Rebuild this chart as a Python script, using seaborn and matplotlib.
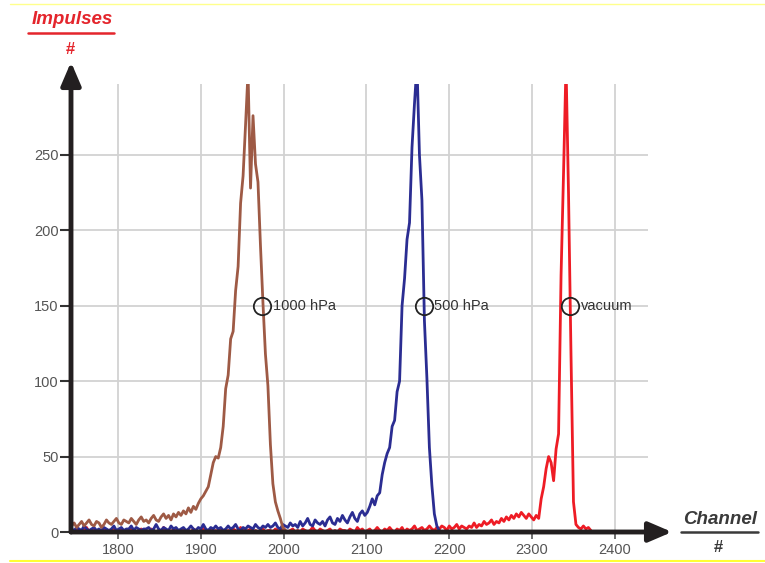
import numpy as np
import pandas as pd
import matplotlib
matplotlib.use("Agg")
import matplotlib.pyplot as plt
from matplotlib.lines import Line2D
import seaborn as sns

# ---- spectra (counts per channel) ----
ch_1000 = np.arange(1744, 2003, 3)
counts_1000 = [
    4, 6, 3, 5, 7, 4, 6, 8, 5, 4,
    7, 6, 3, 5, 8, 6, 5, 7, 9, 6,
    5, 8, 7, 6, 9, 7, 5, 8, 10, 7,
    8, 6, 9, 11, 8, 7, 10, 12, 9, 11,
    8, 12, 10, 13, 11, 14, 12, 16, 13, 17,
    15, 19, 22, 24, 27, 30, 38, 46, 50, 49,
    56, 70, 95, 104, 128, 133, 160, 176, 218, 236,
    270, 305, 228, 276, 244, 232, 190, 152, 118, 97,
    58, 32, 20, 14, 9, 3, 1,
]

ch_500 = np.arange(1744, 2189, 3)
counts_500 = [
    2, 1, 3, 2, 1, 4, 2, 1, 2, 3,
    1, 2, 1, 3, 2, 1, 2, 4, 1, 2,
    3, 1, 2, 2, 4, 1, 3, 2, 1, 2,
    2, 3, 1, 2, 5, 2, 1, 3, 2, 1,
    4, 2, 3, 1, 2, 3, 1, 2, 4, 2,
    1, 3, 2, 5, 2, 1, 3, 2, 4, 2,
    3, 1, 2, 4, 2, 3, 5, 2, 1, 3,
    2, 4, 3, 2, 5, 3, 2, 4, 3, 5,
    3, 4, 6, 3, 2, 5, 4, 3, 6, 4,
    5, 3, 7, 4, 6, 9, 5, 4, 8, 6,
    5, 7, 4, 8, 10, 6, 5, 9, 7, 11,
    8, 6, 10, 13, 9, 7, 12, 14, 11, 13,
    17, 22, 18, 24, 26, 38, 46, 52, 56, 70,
    74, 93, 100, 150, 168, 194, 205, 255, 284, 310,
    250, 220, 140, 102, 56, 31, 12, 4, 1,
]

ch_vac = np.arange(1744, 2373, 3)
counts_vac = [
    1, 0, 2, 1, 0, 1, 3, 0, 1, 2,
    0, 1, 0, 2, 1, 0, 1, 2, 0, 1,
    2, 0, 1, 0, 3, 1, 0, 1, 2, 0,
    1, 0, 2, 1, 0, 1, 0, 3, 1, 0,
    0, 2, 1, 0, 1, 2, 0, 1, 0, 2,
    1, 0, 1, 3, 0, 1, 2, 0, 1, 0,
    2, 1, 0, 1, 0, 2, 1, 0, 3, 1,
    0, 1, 2, 0, 1, 0, 1, 2, 0, 1,
    1, 0, 2, 1, 0, 3, 1, 0, 1, 2,
    0, 1, 0, 2, 1, 0, 1, 3, 1, 0,
    2, 1, 0, 1, 2, 0, 1, 0, 2, 1,
    1, 0, 2, 1, 0, 3, 1, 2, 0, 1,
    2, 0, 1, 3, 1, 0, 2, 1, 3, 1,
    0, 2, 1, 3, 0, 2, 1, 2, 4, 1,
    2, 3, 1, 2, 4, 2, 1, 3, 2, 4,
    3, 1, 4, 2, 3, 5, 2, 4, 3, 2,
    4, 3, 6, 3, 5, 4, 7, 5, 6, 8,
    5, 7, 6, 9, 7, 10, 8, 11, 9, 12,
    10, 13, 11, 9, 12, 10, 8, 11, 9, 22,
    30, 42, 50, 46, 34, 55, 65, 170, 238, 310,
    225, 118, 20, 5, 3, 2, 4, 2, 3, 1,
]

# marker labels on the falling flank of each peak
label_names = ["1000 hPa", "500 hPa", "vacuum"]
label_channels = [1974, 2169, 2346]
label_counts = [150, 150, 150]

x_ticks = [1800, 1900, 2000, 2100, 2200, 2300, 2400]
y_ticks = [0, 50, 100, 150, 200, 250]

W, H = 765, 563
sns.set_theme(style="white")
plt.rcParams["font.family"] = ["Liberation Sans", "DejaVu Sans"]

fig = plt.figure(figsize=(W / 100, H / 100), dpi=100)
# axes box in pixels: x 71..648, y 84..532
ax = fig.add_axes([71 / W, 1 - 532 / H, (648 - 71) / W, (532 - 84) / H])
ax.set_xlim(1743.2, 2440)
ax.set_ylim(0, 297)

ax.set_axisbelow(True)
ax.grid(True, color="#d2d2d2", lw=1.3)
for s in ax.spines.values():
    s.set_visible(False)

series = [
    (ch_vac, counts_vac, "#ee1c25"),
    (ch_500, counts_500, "#2b2d92"),
    (ch_1000, counts_1000, "#9e5a45"),
]
for ch, cnt, col in series:
    df = pd.DataFrame({"channel": ch, "counts": cnt})
    sns.lineplot(data=df, x="channel", y="counts", color=col, lw=2.0,
                 estimator=None, ax=ax, zorder=3)

ax.set_xlabel("")
ax.set_ylabel("")
ax.set_xticks(x_ticks)
ax.set_yticks(y_ticks)
ax.tick_params(axis="y", left=True, length=8, width=1.5, color="#333333",
               pad=1, labelsize=10.5, labelcolor="#555555")
ax.tick_params(axis="x", bottom=True, length=5, width=1.2, color="#555555",
               pad=3, labelsize=10.5, labelcolor="#555555")

# axis arrows
arrow_kw = dict(arrowstyle="-|>,head_length=0.7,head_width=0.3",
                lw=3.5, color="#231f20", shrinkA=0, shrinkB=0,
                mutation_scale=20)
ax.annotate("", xy=(0, 1 + 22 / 448), xytext=(0, 0), xycoords="axes fraction",
            arrowprops=arrow_kw, zorder=6, annotation_clip=False)
ax.annotate("", xy=(1 + 24 / 577, 0), xytext=(0, 0), xycoords="axes fraction",
            arrowprops=arrow_kw, zorder=6, annotation_clip=False)

# circle markers with labels
for name, cx, cy in zip(label_names, label_channels, label_counts):
    ax.plot(cx, cy, marker="o", ms=12.5, mfc="none", mec="#222222", mew=1.3,
            zorder=5)
    ax.annotate(name, xy=(cx, cy), xytext=(7.5, 0), textcoords="offset points",
                ha="left", va="center", fontsize=10.5, color="#333333", zorder=5)

# axis titles
def fx(px):
    return px / W


def fy(py):
    return 1 - py / H


fig.text(fx(72), fy(20), "Impulses", ha="center", va="center", color="#e4252c",
         fontsize=13.5, fontweight="bold", fontstyle="italic")
fig.add_artist(Line2D([fx(28), fx(114)], [fy(33), fy(33)], color="#e4252c", lw=1.8))
fig.text(fx(70), fy(50), "#", ha="center", va="center", color="#e4252c",
         fontsize=12, fontweight="bold")

fig.text(fx(720), fy(520), "Channel", ha="center", va="center", color="#3a3a3a",
         fontsize=13.5, fontweight="bold", fontstyle="italic")
fig.add_artist(Line2D([fx(681), fx(758)], [fy(532), fy(532)], color="#3a3a3a", lw=1.8))
fig.text(fx(718), fy(548), "#", ha="center", va="center", color="#3a3a3a",
         fontsize=12, fontweight="bold")

# thin yellow rules at top and bottom
fig.add_artist(Line2D([fx(10), 1], [fy(4), fy(4)], color="#ffff8c", lw=1.0))
fig.add_artist(Line2D([fx(10), 1], [fy(561), fy(561)], color="#ffff33", lw=1.5))

fig.savefig("out.png", dpi=100)
